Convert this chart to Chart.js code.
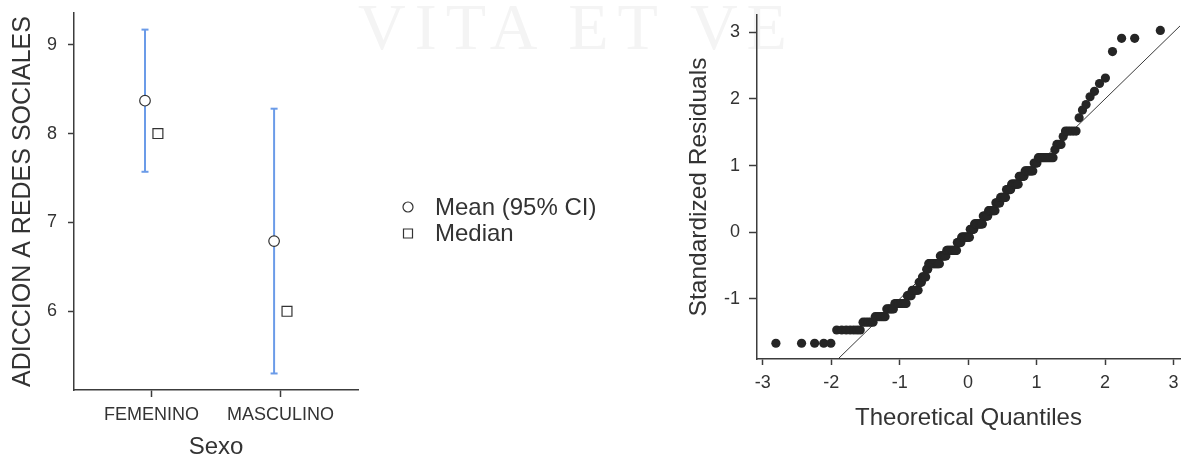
<!DOCTYPE html>
<html>
<head>
<meta charset="utf-8">
<script src="https://cdn.jsdelivr.net/npm/chart.js@4/dist/chart.umd.min.js"></script>
<style>
  html, body { margin: 0; padding: 0; background: #fff; }
  #wrap { position: relative; width: 1188px; height: 462px; overflow: hidden; }
  #mark {
    position: absolute; left: 358px; top: -6px;
    font-family: "Liberation Serif", "DejaVu Serif", serif;
    font-size: 66px; line-height: 66px; letter-spacing: 9px;
    color: #f4f4f4; white-space: nowrap;
  }
  canvas { position: absolute; top: 0; }
  #meansChart { left: 0; }
  #qqChart { left: 640px; }
</style>
</head>
<body>
<div id="wrap">
  <div id="mark">VITA ET VE</div>
  <canvas id="meansChart" width="640" height="462"></canvas>
  <canvas id="qqChart" width="548" height="462"></canvas>
</div>
<script>
// ---- Descriptives by group ----
const categories   = ['FEMENINO', 'MASCULINO'];
const meanValues   = [8.37, 6.79];
const ciLower      = [7.57, 5.30];
const ciUpper      = [9.17, 8.28];
const medianValues = [8, 6];
const meansTicks   = [6, 7, 8, 9];
const legendLabels = ['Mean (95% CI)', 'Median'];

// ---- Sorted standardized residuals (value levels and how many cases sit on each) ----
const residualLevels = [-1.664, -1.465, -1.348, -1.266, -1.149, -1.068, -0.950, -0.869, -0.751, -0.670,
                        -0.553, -0.471, -0.354, -0.272, -0.155, -0.074, 0.044, 0.125, 0.243, 0.324,
                        0.441, 0.523, 0.640, 0.722, 0.839, 0.920, 1.038, 1.119, 1.237, 1.318,
                        1.435, 1.517, 1.716, 1.833, 1.915, 2.032, 2.113, 2.231, 2.312, 2.710,
                        2.909, 3.026];
const residualCounts = [5, 7, 5, 6, 5, 9, 4, 6, 3, 4,
                        2, 12, 7, 12, 5, 10, 5, 10, 6, 8,
                        5, 6, 5, 7, 5, 7, 3, 10, 1, 3,
                        1, 5, 1, 1, 1, 1, 1, 1, 1, 1,
                        2, 1];
const qqTicksX = [-3, -2, -1, 0, 1, 2, 3];
const qqTicksY = [-1, 0, 1, 2, 3];

// ---- Styling ----
const FONT = '"Liberation Sans", Arial, Helvetica, sans-serif';
const TEXT = '#333333';
const AXIS = '#3c3c3c';
const CI_BLUE = '#6b9be8';
Chart.defaults.font.family = FONT;
Chart.defaults.color = TEXT;
Chart.defaults.animation = false;

// Standard normal quantile (Acklam's rational approximation)
function qnorm(p) {
  const a = [-3.969683028665376e+01, 2.209460984245205e+02, -2.759285104469687e+02, 1.383577518672690e+02, -3.066479806614716e+01, 2.506628277459239e+00];
  const b = [-5.447609879822406e+01, 1.615858368580409e+02, -1.556989798598866e+02, 6.680131188771972e+01, -1.328068155288572e+01];
  const c = [-7.784894002430293e-03, -3.223964580411365e-01, -2.400758277161838e+00, -2.549732539343734e+00, 4.374664141464968e+00, 2.938163982698783e+00];
  const d = [7.784695709041462e-03, 3.224671290700398e-01, 2.445134137142996e+00, 3.754408661907416e+00];
  const pl = 0.02425, ph = 1 - pl;
  let q, r;
  if (p < pl) {
    q = Math.sqrt(-2 * Math.log(p));
    return (((((c[0]*q+c[1])*q+c[2])*q+c[3])*q+c[4])*q+c[5]) / ((((d[0]*q+d[1])*q+d[2])*q+d[3])*q+1);
  }
  if (p > ph) {
    q = Math.sqrt(-2 * Math.log(1 - p));
    return -(((((c[0]*q+c[1])*q+c[2])*q+c[3])*q+c[4])*q+c[5]) / ((((d[0]*q+d[1])*q+d[2])*q+d[3])*q+1);
  }
  q = p - 0.5; r = q * q;
  return (((((a[0]*r+a[1])*r+a[2])*r+a[3])*r+a[4])*r+a[5])*q / (((((b[0]*r+b[1])*r+b[2])*r+b[3])*r+b[4])*r+1);
}

// Fixed axis box sizes; drop the automatic label overhang so the plot area uses layout padding only
const fixWidth = w => s => { s.width = w; s.paddingTop = 0; s.paddingBottom = 0; };
const fixHeight = h => s => { s.height = h; s.paddingLeft = 0; s.paddingRight = 0; };

// ================= Means plot =================
const meanShift = -0.05, medianShift = 0.05;

const sideLegend = {
  id: 'sideLegend',
  afterDraw(chart) {
    const ctx = chart.ctx;
    const cx = 408, y0 = 207, dy = 26.5, tx = 435;
    ctx.save();
    ctx.lineWidth = 1.2;
    ctx.strokeStyle = '#333';
    ctx.fillStyle = '#fff';
    ctx.beginPath(); ctx.arc(cx, y0, 5, 0, Math.PI * 2); ctx.fill(); ctx.stroke();
    ctx.beginPath(); ctx.rect(cx - 4.5, y0 + dy - 4.5, 9, 9); ctx.fill(); ctx.stroke();
    ctx.fillStyle = TEXT;
    ctx.font = '24px ' + FONT;
    ctx.textBaseline = 'middle';
    ctx.textAlign = 'left';
    legendLabels.forEach((t, i) => ctx.fillText(t, tx, y0 + i * dy + 1));
    ctx.restore();
  }
};

const ciSets = categories.map((c, i) => ({
  label: c + ' 95% CI',
  showLine: true,
  data: [{x: i + 1 + meanShift, y: ciLower[i]}, {x: i + 1 + meanShift, y: ciUpper[i]}],
  borderColor: CI_BLUE, borderWidth: 2,
  pointStyle: 'line', pointRadius: 3.5, pointBorderColor: CI_BLUE, pointBorderWidth: 2,
  order: 2
}));

new Chart(document.getElementById('meansChart'), {
  type: 'scatter',
  data: {
    datasets: [
      { label: 'Mean', data: meanValues.map((v, i) => ({x: i + 1 + meanShift, y: v})),
        pointStyle: 'circle', pointRadius: 5.3, pointBackgroundColor: '#fff',
        pointBorderColor: '#333', pointBorderWidth: 1.2, order: 0 },
      { label: 'Median', data: medianValues.map((v, i) => ({x: i + 1 + medianShift, y: v})),
        pointStyle: 'rect', pointRadius: 7, pointBackgroundColor: '#fff',
        pointBorderColor: '#333', pointBorderWidth: 1.2, order: 1 },
      ...ciSets
    ]
  },
  options: {
    responsive: false,
    layout: { padding: { top: 13, right: 282, left: 0, bottom: 0 } },
    plugins: { legend: { display: false }, tooltip: { enabled: false } },
    scales: {
      x: {
        type: 'linear', min: 0.4, max: 2.6,
        afterBuildTicks: s => { s.ticks = categories.map((c, i) => ({value: i + 1})); },
        afterFit: fixHeight(72),
        ticks: { callback: v => categories[v - 1], font: { size: 18 }, color: TEXT, padding: 7, autoSkip: false, maxRotation: 0 },
        grid: { drawOnChartArea: false, drawTicks: true, tickLength: 7, tickColor: AXIS, tickWidth: 1.5 },
        border: { display: true, color: AXIS, width: 1.5 },
        title: { display: true, text: 'Sexo', font: { size: 24 }, color: TEXT, padding: { top: 0, bottom: 0 } }
      },
      y: {
        min: 5.114, max: 9.357,
        afterBuildTicks: s => { s.ticks = meansTicks.map(v => ({value: v})); },
        afterFit: fixWidth(74),
        ticks: { font: { size: 18 }, color: TEXT, padding: 11 },
        grid: { drawOnChartArea: false, drawTicks: true, tickLength: 6, tickColor: AXIS, tickWidth: 1.5 },
        border: { display: true, color: AXIS, width: 1.5 },
        title: { display: true, text: 'ADICCION A REDES SOCIALES', font: { size: 25 }, color: TEXT, padding: { top: 8, bottom: 0 } }
      }
    }
  },
  plugins: [sideLegend]
});

// ================= Q-Q plot =================
const sortedResiduals = [];
residualLevels.forEach((v, k) => { for (let j = 0; j < residualCounts[k]; j++) sortedResiduals.push(v); });
const nObs = sortedResiduals.length;
const qqPoints = sortedResiduals.map((v, i) => ({ x: qnorm((i + 0.5) / nObs), y: v }));

const qqX = { min: -3.083, max: 3.094 };
const qqY = { min: -1.9, max: 3.258 };

new Chart(document.getElementById('qqChart'), {
  type: 'scatter',
  data: {
    datasets: [
      { label: 'Residuals', data: qqPoints, pointRadius: 4.6, pointBackgroundColor: '#252525',
        pointBorderWidth: 0, pointBorderColor: '#252525', order: 0 },
      { label: 'Identity', showLine: true,
        data: [{x: qqY.min, y: qqY.min}, {x: qqX.max, y: qqX.max}],
        borderColor: '#3a3a3a', borderWidth: 1, pointRadius: 0, order: 1 }
    ]
  },
  options: {
    responsive: false,
    layout: { padding: { top: 15, right: 8, left: 0, bottom: 0 } },
    plugins: { legend: { display: false }, tooltip: { enabled: false } },
    scales: {
      x: {
        type: 'linear', min: qqX.min, max: qqX.max,
        afterBuildTicks: s => { s.ticks = qqTicksX.map(v => ({value: v})); },
        afterFit: fixHeight(103),
        ticks: { font: { size: 18 }, color: TEXT, padding: 7, maxRotation: 0 },
        grid: { drawOnChartArea: false, drawTicks: true, tickLength: 6, tickColor: AXIS, tickWidth: 1.5 },
        border: { display: true, color: AXIS, width: 1.5 },
        title: { display: true, text: 'Theoretical Quantiles', font: { size: 24 }, color: TEXT, padding: { top: 0, bottom: 29.6 } }
      },
      y: {
        min: qqY.min, max: qqY.max,
        afterBuildTicks: s => { s.ticks = qqTicksY.map(v => ({value: v})); },
        afterFit: fixWidth(117),
        ticks: { font: { size: 18 }, color: TEXT, padding: 9 },
        grid: { drawOnChartArea: false, drawTicks: true, tickLength: 8, tickColor: AXIS, tickWidth: 1.5 },
        border: { display: true, color: AXIS, width: 1.5 },
        title: { display: true, text: 'Standardized Residuals', font: { size: 24.5 }, color: TEXT, padding: { top: 44.4, bottom: 0 } }
      }
    }
  }
});
</script>
</body>
</html>
